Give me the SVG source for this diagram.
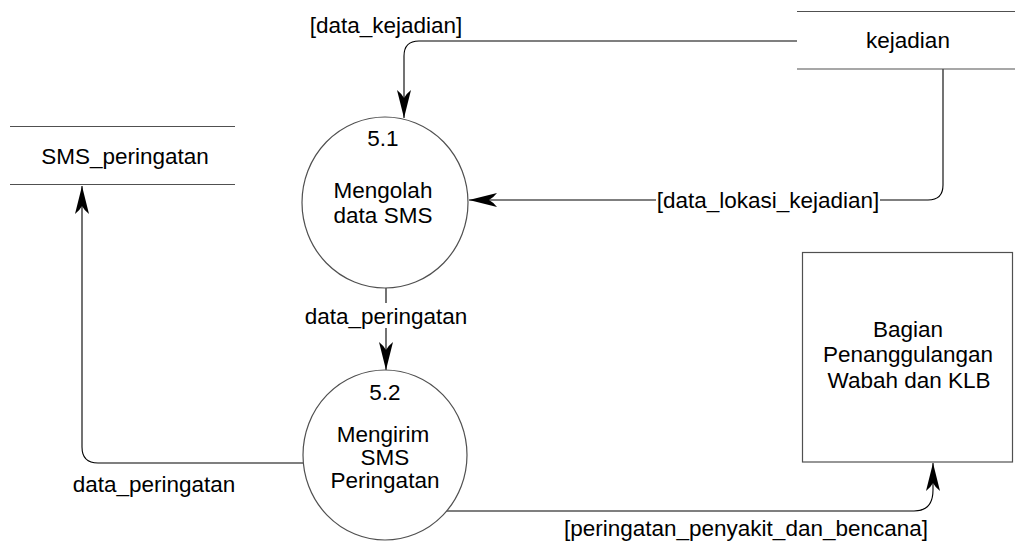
<svg xmlns="http://www.w3.org/2000/svg" width="1015" height="545" viewBox="0 0 1015 545">
  <style>
    text { font-family: "Liberation Sans", Arial, sans-serif; font-size: 22.5px; fill: #000; text-anchor: middle; }
    .shape { fill: #fff; stroke: #505050; stroke-width: 1.2; }
    .store { stroke: #505050; stroke-width: 1.2; fill: none; }
    .conn { fill: none; stroke: #000; stroke-width: 1.1; }
  </style>
  <defs>
    <marker id="arrow" viewBox="-30 -8 31 16" refX="0" refY="0" markerWidth="31" markerHeight="16" markerUnits="userSpaceOnUse" orient="auto">
      <path d="M0,0 L-28,-7 Q-24,-2 -20,0 Q-24,2 -28,7 Z" fill="#000"/>
    </marker>
  </defs>
  <rect width="1015" height="545" fill="#fff"/>

  <g id="connectors">
    <path class="conn" d="M797,41 H419 Q404,41 404,56 V118" marker-end="url(#arrow)"/>
    <path class="conn" d="M943,69 V185 Q943,200 928,200 H880"/>
    <path class="conn" d="M656,200 H469" marker-end="url(#arrow)"/>
    <path class="conn" d="M386,288 V303"/>
    <path class="conn" d="M386,328 V370" marker-end="url(#arrow)"/>
    <path class="conn" d="M303,463 H98 Q82,463 82,447 V186" marker-end="url(#arrow)"/>
    <path class="conn" d="M446,511 H914 Q933,511 933,490 V463" marker-end="url(#arrow)"/>
    <text x="386" y="33">[data_kejadian]</text>
    <text x="768" y="208">[data_lokasi_kejadian]</text>
    <text x="386" y="324">data_peringatan</text>
    <text x="154" y="492">data_peringatan</text>
    <text x="746" y="536">[peringatan_penyakit_dan_bencana]</text>
  </g>

  <g id="store-kejadian">
    <line class="store" x1="797" y1="11.5" x2="1015" y2="11.5"/>
    <line class="store" x1="797" y1="69" x2="1015" y2="69"/>
    <text x="908" y="48">kejadian</text>
  </g>

  <g id="store-sms-peringatan">
    <line class="store" x1="10" y1="126.5" x2="235" y2="126.5"/>
    <line class="store" x1="10" y1="184.5" x2="235" y2="184.5"/>
    <text x="125" y="164">SMS_peringatan</text>
  </g>

  <g id="process-5-1">
    <ellipse class="shape" cx="385" cy="202.5" rx="83" ry="85.5"/>
    <text x="383" y="146">5.1</text>
    <text x="383" y="198">Mengolah</text>
    <text x="383" y="223">data SMS</text>
  </g>

  <g id="process-5-2">
    <ellipse class="shape" cx="385" cy="455" rx="82" ry="85"/>
    <text x="385" y="400">5.2</text>
    <text x="383" y="442">Mengirim</text>
    <text x="385" y="465">SMS</text>
    <text x="385" y="488">Peringatan</text>
  </g>

  <g id="entity-bagian">
    <rect class="shape" x="802.5" y="252.5" width="210" height="209.5"/>
    <text x="908" y="337">Bagian</text>
    <text x="908" y="362">Penanggulangan</text>
    <text x="909" y="388">Wabah dan KLB</text>
  </g>
</svg>
